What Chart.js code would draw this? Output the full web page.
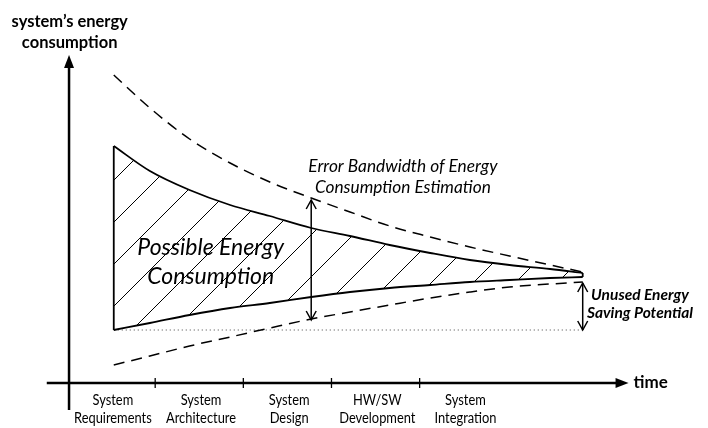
<!DOCTYPE html>
<html><head><meta charset="utf-8">
<script src="https://cdn.jsdelivr.net/npm/chart.js@4.4.1/dist/chart.umd.min.js"></script>
<style>html,body{margin:0;padding:0;background:#fff}canvas{display:block}</style>
</head><body>
<canvas id="c" width="708" height="428"></canvas>
<script>
// ---- data ----
const phases = [["System","Requirements"],["System","Architecture"],["System","Design"],["HW/SW","Development"],["System","Integration"]];
const phaseBoundaries = [1,2,3,4];
const xPoints       = [0.53,0.94,1.39,1.85,2.30,2.77,3.21,3.66,4.12,4.57,5.02,5.48,5.85];
const upperEstimate = [237,212,193,178,167,155,147,138,130,123,118,114,110];
const lowerEstimate = [53,60,68,75,80,86,91,95,98,101,103,105,106];
const errorUpper    = [308,275,244,220,201,185,171,157,146,136,127,118,111];
const errorLower    = [18,27,37,46,55,64,71,78,85,91,96,99,101];
const baseline = 53;
const errorArrowIndex = 5;
const yTitle = ["system\u2019s energy","consumption"];
const xTitle = "time";
const bandLabel = ["Possible Energy","Consumption"];
const errorLabel = ["Error Bandwidth of Energy","Consumption Estimation"];
const savingLabel = ["Unused Energy","Saving Potential"];

const FONT = "Lato, 'Open Sans', sans-serif";

function hatch(){
  const s = 42, c = document.createElement('canvas');
  c.width = s; c.height = s;
  const g = c.getContext('2d');
  g.strokeStyle = '#000'; g.lineWidth = 1;
  g.beginPath();
  g.moveTo(0,s); g.lineTo(s,0);
  g.moveTo(-s,s); g.lineTo(s,-s);
  g.moveTo(0,2*s); g.lineTo(2*s,0);
  g.stroke();
  return g.createPattern(c,'repeat');
}
const pts = ys => xPoints.map((x,i)=>({x, y: ys[i]}));
const last = xPoints.length-1;

const lineBase = {showLine:true, pointRadius:0, borderColor:'#000', fill:false, cubicInterpolationMode:'monotone'};

const overlay = {
  id:'overlay',
  afterDraw(chart){
    const ctx = chart.ctx, xs = chart.scales.x, ysc = chart.scales.y;
    const X = v => xs.getPixelForValue(v), Y = v => ysc.getPixelForValue(v);
    ctx.save();
    ctx.strokeStyle = '#000'; ctx.fillStyle = '#000';
    // axes
    ctx.lineWidth = 2.5;
    const ax0 = X(0), ay0 = Y(0);
    const yTop = Y(328), yBot = Y(-27), xL = X(-0.23), xR = X(6.37);
    ctx.beginPath(); ctx.moveTo(ax0+2, yBot); ctx.lineTo(ax0+2, yTop+10); ctx.stroke();
    ctx.beginPath(); ctx.moveTo(ax0+2, yTop); ctx.lineTo(ax0+2-5, yTop+13); ctx.lineTo(ax0+2+5, yTop+13); ctx.closePath(); ctx.fill();
    ctx.beginPath(); ctx.moveTo(xL, ay0); ctx.lineTo(xR-10, ay0); ctx.stroke();
    ctx.beginPath(); ctx.moveTo(xR, ay0); ctx.lineTo(xR-13, ay0-5); ctx.lineTo(xR-13, ay0+5); ctx.closePath(); ctx.fill();
    // ticks
    ctx.lineWidth = 1.3;
    phaseBoundaries.forEach(b => { ctx.beginPath(); ctx.moveTo(X(b), ay0-5); ctx.lineTo(X(b), ay0+5); ctx.stroke(); });
    // double arrows
    function dbl(x, y1, y2){
      const px = X(x), p1 = Y(y1), p2 = Y(y2);
      ctx.lineWidth = 1.5;
      ctx.beginPath(); ctx.moveTo(px,p1); ctx.lineTo(px,p2); ctx.stroke();
      ctx.beginPath();
      ctx.moveTo(px-5,p1+9); ctx.lineTo(px,p1); ctx.lineTo(px+5,p1+9);
      ctx.moveTo(px-5,p2-9); ctx.lineTo(px,p2); ctx.lineTo(px+5,p2-9);
      ctx.stroke();
    }
    dbl(xPoints[errorArrowIndex], errorUpper[errorArrowIndex]-2, errorLower[errorArrowIndex]-1);
    dbl(xPoints[last], errorLower[last]-1, baseline);
    // texts
    ctx.textBaseline = 'middle'; ctx.textAlign = 'center';
    ctx.font = "bold 16.5px "+FONT;
    ctx.fillText(yTitle[0], X(0.03), Y(361));
    ctx.fillText(yTitle[1], X(0.03), Y(340));
    ctx.textAlign = 'left';
    ctx.font = "bold 17px "+FONT;
    ctx.fillText(xTitle, xR+5, ay0);
    ctx.textAlign = 'center';
    ctx.font = "15.5px "+FONT;
    const narrow = (t, x, y) => { ctx.save(); ctx.translate(x, y); ctx.scale(0.83, 1); ctx.fillText(t, 0, 0); ctx.restore(); };
    phases.forEach((p,i) => {
      narrow(p[0], X(i+0.52), Y(-17));
      narrow(p[1], X(i+0.52), Y(-35));
    });
    ctx.font = "italic 23px "+FONT;
    ctx.fillText(bandLabel[0], X(1.63), Y(135));
    ctx.fillText(bandLabel[1], X(1.63), Y(106));
    ctx.font = "italic 17.3px "+FONT;
    ctx.fillText(errorLabel[0], X(3.81), Y(217));
    ctx.fillText(errorLabel[1], X(3.81), Y(196));
    ctx.font = "bold italic 15.5px "+FONT;
    ctx.fillText(savingLabel[0], X(6.5), Y(88));
    ctx.fillText(savingLabel[1], X(6.5), Y(70));
    ctx.restore();
  }
};

new Chart(document.getElementById('c'), {
  type:'scatter',
  data:{datasets:[
    {...lineBase, data:pts(upperEstimate), borderWidth:1.8, fill:'+1', backgroundColor:hatch()},
    {...lineBase, data:pts(lowerEstimate), borderWidth:1.8},
    {...lineBase, data:pts(errorUpper), borderWidth:1.5, borderDash:[11,7]},
    {...lineBase, data:pts(errorLower), borderWidth:1.5, borderDash:[11,7]},
    {...lineBase, data:[{x:xPoints[0],y:baseline},{x:xPoints[last],y:baseline}], borderWidth:1, borderDash:[1,3], borderColor:'#444'},
    {...lineBase, data:[{x:xPoints[0],y:upperEstimate[0]},{x:xPoints[0],y:lowerEstimate[0]}], borderWidth:1.8},
    {...lineBase, data:[{x:xPoints[last],y:upperEstimate[last]},{x:xPoints[last],y:lowerEstimate[last]}], borderWidth:1.8}
  ]},
  options:{
    responsive:false, animation:false,
    layout:{padding:{left:45,right:68,top:43,bottom:15}},
    plugins:{legend:{display:false}, tooltip:{enabled:false}},
    scales:{
      x:{type:'linear', min:-0.25, max:6.5, display:false},
      y:{type:'linear', min:-30, max:340, display:false}
    }
  },
  plugins:[overlay]
});
</script>
</body></html>
